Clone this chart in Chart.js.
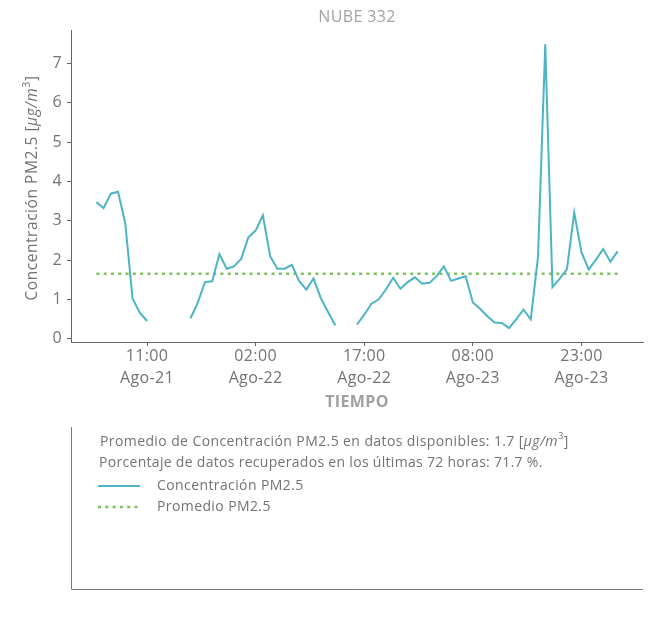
<!DOCTYPE html>
<html>
<head>
<meta charset="utf-8">
<script src="https://cdn.jsdelivr.net/npm/chart.js@4/dist/chart.umd.min.js"></script>
<style>
  html, body { margin: 0; padding: 0; background: #fff; }
  #wrap { width: 652px; height: 623px; position: relative; }
</style>
</head>
<body>
<div id="wrap"><canvas id="pmChart"></canvas></div>
<script>
// horas desde 04:00 Ago-21 (índice 0) hasta 04:00 Ago-24 (índice 72)
const pm25 = [
  3.48, 3.32, 3.69, 3.74, 2.93, 1.02, 0.66, 0.45,             // 04-11 Ago-21
  null, null, null, null, null,                               // 12-16
  0.52, 0.91, 1.44, 1.46, 2.15, 1.78, 1.84,                   // 17-23
  2.03, 2.58, 2.75, 3.14, 2.10, 1.78, 1.78, 1.88,             // 00-07 Ago-22
  1.47, 1.25, 1.53, 1.03, 0.68, 0.34, null, null,             // 08-15
  0.36, 0.61, 0.89, 1.00, 1.25, 1.55, 1.27, 1.44,             // 16-23
  1.56, 1.40, 1.42, 1.59, 1.84, 1.47, 1.53, 1.59,             // 00-07 Ago-23
  0.92, 0.76, 0.57, 0.41, 0.40, 0.27, 0.50, 0.74,             // 08-15
  0.49, 2.08, 7.49, 1.31, 1.53, 1.77, 3.21, 2.20,             // 16-23
  1.76, 2.01, 2.28, 1.96, 2.22                                // 00-04 Ago-24
];
const promedio = 1.65;
const tickHoras = [7, 22, 37, 52, 67];
const tickLabels = [
  ["11:00", "Ago-21"],
  ["02:00", "Ago-22"],
  ["17:00", "Ago-22"],
  ["08:00", "Ago-23"],
  ["23:00", "Ago-23"]
];
const yTicks = [0, 1, 2, 3, 4, 5, 6, 7];

const FONT = "'Open Sans'";
const GRIS = "#737373";

// texto con partes en cursiva / superíndice
function textoMixto(ctx, partes, x, y, size, medir) {
  let cx = x;
  partes.forEach(p => {
    const s = p.sup ? size * 0.68 : size;
    ctx.font = (p.italic ? "italic " : "") + s + "px " + FONT;
    if (!medir) ctx.fillText(p.t, cx, p.sup ? y - size * 0.38 : y);
    cx += ctx.measureText(p.t).width;
  });
  return cx - x;
}

const unidad = [{ t: "[" }, { t: "μg/m", italic: true }, { t: "3", sup: true }, { t: "]" }];

// tipografía algo más abierta, como la original
const espaciado = {
  id: "espaciado",
  beforeDraw(chart) { chart.ctx.letterSpacing = "0.35px"; }
};

const cajaInfo = {
  id: "cajaInfo",
  afterDraw(chart) {
    const { ctx, chartArea } = chart;
    ctx.save();
    ctx.textBaseline = "middle";
    ctx.fillStyle = GRIS;

    // título del eje Y
    ctx.letterSpacing = "0.55px";
    const yTitulo = [{ t: "Concentración PM2.5 " }].concat(unidad);
    const w = textoMixto(ctx, yTitulo, 0, 0, 15.5, true);
    ctx.save();
    ctx.translate(33, 188);
    ctx.rotate(-Math.PI / 2);
    textoMixto(ctx, yTitulo, -w / 2, 0, 15.5);
    ctx.restore();

    // caja inferior
    const left = chartArea.left, right = chartArea.right;
    ctx.strokeStyle = "#777";
    ctx.lineWidth = 1;
    ctx.beginPath();
    ctx.moveTo(left + 0.5, 427);
    ctx.lineTo(left + 0.5, 589.5);
    ctx.lineTo(right, 589.5);
    ctx.stroke();

    ctx.letterSpacing = "0.4px";
    textoMixto(ctx, [{ t: "Promedio de Concentración PM2.5 en datos disponibles: 1.7 " }].concat(unidad), 100, 442, 14);
    ctx.letterSpacing = "0.3px";
    textoMixto(ctx, [{ t: "Porcentaje de datos recuperados en los últimas 72 horas: 71.7 %." }], 99, 463, 14);
    ctx.letterSpacing = "0.4px";

    // leyenda
    chart.data.datasets.forEach((ds, i) => {
      const y = 486 + i * 21;
      ctx.save();
      ctx.strokeStyle = ds.borderColor;
      ctx.lineWidth = ds.borderWidth;
      ctx.setLineDash(ds.borderDash || []);
      ctx.beginPath();
      ctx.moveTo(98, y);
      ctx.lineTo(140, y);
      ctx.stroke();
      ctx.restore();
      ctx.fillStyle = GRIS;
      textoMixto(ctx, [{ t: ds.label }], 157, y, 14);
    });
    ctx.restore();
  }
};

const ctx = document.getElementById("pmChart").getContext("2d");

new Chart(ctx, {
  type: "line",
  data: {
    datasets: [
      {
        label: "Concentración PM2.5",
        data: pm25.map((v, i) => ({ x: i, y: v })),
        borderColor: "#4cb4c3",
        borderWidth: 2,
        pointRadius: 0,
        tension: 0,
        spanGaps: false
      },
      {
        label: "Promedio PM2.5",
        data: [{ x: 0, y: promedio }, { x: pm25.length - 1, y: promedio }],
        borderColor: "#7fbf5e",
        borderWidth: 2.5,
        borderDash: [3, 4.3],
        pointRadius: 0
      }
    ]
  },
  options: {
    responsive: true,
    maintainAspectRatio: false,
    animation: false,
    layout: {
      padding: { left: 0, right: 9, top: 0, bottom: 211 }
    },
    plugins: {
      legend: { display: false },
      tooltip: { enabled: false },
      title: {
        display: true,
        fullSize: false,
        text: "NUBE 332",
        color: "#a3a3a3",
        font: { family: FONT, size: 16, weight: "normal" },
        padding: { top: 8, bottom: 3 }
      }
    },
    scales: {
      x: {
        type: "linear",
        min: -3.5,
        max: 75.5,
        afterBuildTicks: (scale) => {
          scale.ticks = tickHoras.map(v => ({ value: v }));
        },
        afterFit: (scale) => { scale.height = 70; },
        border: { color: "#666", width: 1 },
        grid: { drawOnChartArea: false, drawTicks: true, tickLength: 4, color: "#666" },
        ticks: {
          color: GRIS,
          padding: 0,
          maxRotation: 0,
          font: { family: FONT, size: 16, lineHeight: 1.35 },
          callback: (value) => tickLabels[tickHoras.indexOf(value)]
        },
        title: {
          display: true,
          text: "TIEMPO",
          color: "#a0a0a0",
          font: { family: FONT, size: 16, weight: "bold" },
          padding: { top: 0, bottom: 0 }
        }
      },
      y: {
        min: -0.085,
        max: 7.85,
        afterBuildTicks: (scale) => {
          scale.ticks = yTicks.map(v => ({ value: v }));
        },
        afterFit: (scale) => { scale.width = 71; },
        border: { color: "#666", width: 1 },
        grid: { drawOnChartArea: false, drawTicks: true, tickLength: 4, color: "#666" },
        ticks: {
          color: GRIS,
          padding: 5,
          font: { family: FONT, size: 16 }
        }
      }
    }
  },
  plugins: [espaciado, cajaInfo]
});
</script>
</body>
</html>
